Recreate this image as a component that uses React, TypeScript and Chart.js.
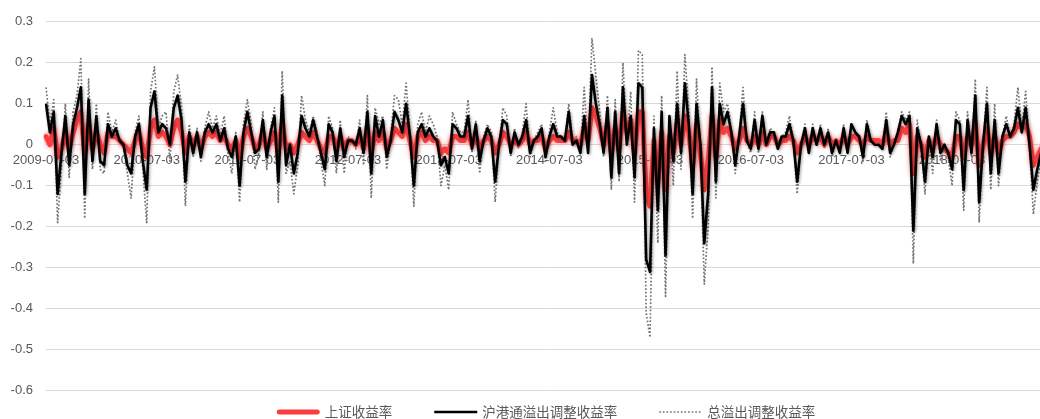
import { useEffect, useRef } from 'react';
import { Chart, registerables } from 'chart.js';

Chart.register(...registerables);

// ---- data ----
const START_DATE = '2009-07-03';
const STEP_DAYS = 14;
const TICK_EVERY = 26;
const tickLabels = [
  '2009-07-03', '2010-07-03', '2011-07-03', '2012-07-03', '2013-07-03',
  '2014-07-03', '2015-07-03', '2016-07-03', '2017-07-03', '2018-07-03',
];
const seriesNames = ['上证收益率', '沪港通溢出调整收益率', '总溢出调整收益率'];

// 上证收益率
const shReturn = [
  0.02, 0.00, 0.04, -0.03, -0.01, 0.03, -0.01, 0.03, 0.06, 0.08,
  -0.02, 0.05, -0.01, 0.03, 0.00, -0.02, 0.03, 0.02, 0.02, 0.01,
  0.00, -0.01, -0.02, 0.01, 0.03, -0.01, -0.03, 0.04, 0.06, 0.02,
  0.03, 0.02, 0.00, 0.04, 0.06, 0.03, -0.02, 0.02, 0.00, 0.02,
  -0.01, 0.02, 0.03, 0.02, 0.03, 0.01, 0.02, 0.00, -0.01, 0.01,
  -0.03, 0.02, 0.04, 0.02, -0.01, 0.00, 0.03, -0.01, 0.01, 0.03,
  -0.02, 0.05, -0.01, 0.00, -0.02, 0.00, 0.03, 0.02, 0.01, 0.03,
  0.01, -0.01, -0.02, 0.02, 0.02, -0.01, 0.02, -0.01, 0.01, 0.01,
  0.00, 0.02, -0.01, 0.04, -0.02, 0.03, 0.01, 0.03, -0.01, 0.01,
  0.04, 0.03, 0.02, 0.05, 0.01, -0.03, 0.02, 0.03, 0.01, 0.02,
  0.01, 0.01, -0.02, -0.01, -0.02, 0.02, 0.02, 0.01, 0.01, 0.03,
  0.00, 0.02, -0.01, 0.01, 0.02, 0.01, -0.02, 0.00, 0.03, 0.02,
  0.00, 0.01, 0.00, 0.01, 0.03, 0.00, 0.01, 0.01, 0.02, -0.01,
  0.01, 0.02, 0.01, 0.01, 0.01, 0.03, 0.01, 0.01, 0.00, 0.04,
  0.01, 0.09, 0.07, 0.04, 0.00, 0.05, -0.02, 0.04, -0.01, 0.08,
  0.03, 0.06, -0.02, 0.08, 0.08, -0.12, -0.15, 0.01, -0.09, 0.03,
  -0.11, 0.02, -0.02, 0.05, 0.00, 0.07, 0.03, -0.05, 0.05, -0.02,
  -0.11, -0.04, 0.07, -0.03, 0.06, 0.03, 0.04, 0.02, -0.01, 0.01,
  0.04, 0.01, 0.00, 0.02, 0.00, 0.03, 0.00, 0.02, 0.02, 0.00,
  0.01, 0.01, 0.02, 0.01, -0.02, 0.00, 0.02, 0.00, 0.02, 0.01,
  0.02, 0.00, 0.02, 0.00, 0.01, 0.00, 0.02, 0.00, 0.02, 0.02,
  0.01, 0.00, 0.02, 0.01, 0.01, 0.01, 0.00, 0.03, 0.00, 0.01,
  0.01, 0.04, 0.03, 0.05, -0.07, 0.02, 0.00, -0.03, 0.01, -0.01,
  0.02, 0.00, -0.01, -0.02, -0.03, 0.02, 0.02, -0.03, 0.02, 0.00,
  0.05, -0.05, 0.00, 0.04, -0.02, 0.02, -0.02, 0.01, 0.02, 0.02,
  0.03, 0.05, 0.04, 0.05, 0.02, -0.05, -0.03, -0.01, 0.00,
];

// 沪港通溢出调整收益率
const hkConnectAdj = [
  0.10, 0.03, 0.08, -0.12, -0.02, 0.07, -0.05, 0.05, 0.09, 0.14,
  -0.12, 0.11, -0.04, 0.07, -0.04, -0.05, 0.05, 0.02, 0.04, 0.01,
  0.00, -0.05, -0.07, 0.02, 0.05, -0.04, -0.11, 0.09, 0.13, 0.03,
  0.05, 0.04, 0.00, 0.09, 0.12, 0.06, -0.09, 0.03, -0.02, 0.03,
  -0.03, 0.03, 0.05, 0.03, 0.05, 0.01, 0.04, -0.01, -0.03, 0.02,
  -0.10, 0.03, 0.08, 0.03, -0.02, -0.01, 0.06, -0.03, 0.03, 0.07,
  -0.09, 0.12, -0.05, 0.00, -0.07, -0.02, 0.07, 0.04, 0.02, 0.06,
  0.02, -0.02, -0.06, 0.05, 0.03, -0.04, 0.04, -0.03, 0.01, 0.01,
  0.00, 0.04, -0.02, 0.08, -0.07, 0.07, 0.02, 0.06, -0.03, 0.01,
  0.08, 0.06, 0.03, 0.10, 0.02, -0.10, 0.03, 0.05, 0.02, 0.04,
  0.02, 0.01, -0.05, -0.03, -0.07, 0.05, 0.04, 0.02, 0.02, 0.07,
  -0.01, 0.05, -0.04, 0.01, 0.04, 0.02, -0.09, 0.00, 0.06, 0.05,
  -0.02, 0.03, 0.00, 0.02, 0.06, -0.02, 0.01, 0.02, 0.04, -0.03,
  0.02, 0.05, 0.02, 0.02, 0.01, 0.08, 0.00, 0.01, -0.02, 0.07,
  -0.02, 0.17, 0.10, 0.05, -0.02, 0.09, -0.08, 0.08, -0.07, 0.14,
  0.00, 0.07, -0.08, 0.15, 0.14, -0.28, -0.31, 0.04, -0.16, 0.08,
  -0.27, 0.07, -0.04, 0.10, -0.02, 0.15, 0.05, -0.12, 0.10, 0.00,
  -0.24, -0.12, 0.14, -0.09, 0.10, 0.05, 0.08, 0.03, -0.05, 0.02,
  0.10, 0.01, -0.01, 0.06, -0.01, 0.07, 0.00, 0.03, 0.03, -0.01,
  0.02, 0.02, 0.05, 0.01, -0.09, 0.00, 0.04, -0.02, 0.04, 0.00,
  0.04, 0.00, 0.03, -0.02, 0.01, -0.02, 0.04, -0.02, 0.05, 0.03,
  0.02, -0.03, 0.05, 0.01, 0.00, 0.00, -0.01, 0.06, -0.02, 0.00,
  0.03, 0.07, 0.05, 0.07, -0.21, 0.04, 0.00, -0.09, 0.02, -0.03,
  0.05, -0.02, 0.00, -0.02, -0.06, 0.06, 0.05, -0.11, 0.06, -0.02,
  0.12, -0.14, 0.00, 0.10, -0.07, 0.06, -0.07, 0.02, 0.05, 0.02,
  0.04, 0.09, 0.03, 0.09, 0.00, -0.11, -0.06, -0.02, 0.00,
];

// 总溢出调整收益率
const totalSpillAdj = [
  0.14, 0.05, 0.11, -0.19, -0.05, 0.10, -0.08, 0.08, 0.12, 0.21,
  -0.18, 0.16, -0.06, 0.10, -0.06, -0.07, 0.08, 0.03, 0.06, 0.01,
  0.00, -0.07, -0.13, 0.03, 0.07, -0.06, -0.19, 0.13, 0.19, 0.04,
  0.07, 0.08, -0.04, 0.13, 0.17, 0.09, -0.15, 0.05, -0.03, 0.04,
  -0.04, 0.04, 0.08, 0.04, 0.07, 0.02, 0.07, -0.02, -0.07, 0.03,
  -0.14, 0.05, 0.11, 0.05, -0.06, -0.02, 0.08, -0.06, 0.04, 0.09,
  -0.14, 0.18, -0.07, -0.04, -0.12, -0.05, 0.12, 0.06, 0.03, 0.07,
  0.03, -0.04, -0.10, 0.07, 0.04, -0.07, 0.06, -0.07, 0.02, 0.01,
  -0.01, 0.06, -0.05, 0.12, -0.13, 0.09, 0.05, 0.07, -0.06, 0.02,
  0.12, 0.11, 0.05, 0.15, 0.03, -0.15, 0.05, 0.08, 0.03, 0.07,
  0.05, 0.02, -0.10, -0.05, -0.11, 0.08, 0.05, 0.03, 0.03, 0.11,
  -0.02, 0.06, -0.07, 0.02, 0.05, 0.03, -0.14, 0.00, 0.09, 0.07,
  -0.03, 0.04, -0.01, 0.03, 0.10, -0.03, 0.01, 0.03, 0.05, -0.04,
  0.03, 0.09, 0.03, 0.02, 0.01, 0.10, 0.01, 0.02, -0.02, 0.14,
  -0.02, 0.26, 0.17, 0.08, -0.03, 0.12, -0.11, 0.11, -0.09, 0.20,
  0.00, 0.13, -0.14, 0.23, 0.22, -0.41, -0.47, 0.07, -0.24, 0.12,
  -0.37, 0.07, -0.10, 0.18, -0.06, 0.22, 0.08, -0.18, 0.16, -0.01,
  -0.34, -0.20, 0.19, -0.13, 0.15, 0.08, 0.10, 0.04, -0.07, 0.02,
  0.14, 0.01, -0.02, 0.08, -0.02, 0.08, 0.00, 0.04, 0.03, -0.01,
  0.02, 0.03, 0.07, 0.01, -0.12, 0.00, 0.05, -0.02, 0.05, 0.00,
  0.05, -0.01, 0.04, -0.03, 0.01, -0.02, 0.05, -0.02, 0.05, 0.03,
  0.02, -0.04, 0.06, 0.01, 0.00, 0.00, -0.01, 0.08, -0.03, 0.00,
  0.03, 0.08, 0.06, 0.08, -0.29, 0.06, 0.00, -0.12, 0.02, -0.07,
  0.06, -0.04, 0.00, -0.03, -0.10, 0.08, 0.06, -0.16, 0.08, -0.03,
  0.16, -0.19, 0.00, 0.14, -0.11, 0.10, -0.10, 0.02, 0.07, 0.02,
  0.05, 0.14, 0.04, 0.13, 0.00, -0.17, -0.09, -0.03, 0.00,
];

const Y_MIN = -0.6;
const Y_MAX = 0.3;
const Y_STEP = 0.1;

// ---- helpers ----
function buildDates(n: number): string[] {
  const out: string[] = [];
  const d0 = new Date(START_DATE + 'T00:00:00Z').getTime();
  for (let i = 0; i < n; i++) {
    out.push(new Date(d0 + i * STEP_DAYS * 86400000).toISOString().slice(0, 10));
  }
  return out;
}

const CANVAS_W = 1092;
const CANVAS_H = 419;
const TEXT_COLOR = '#595959';
const TICK_FONT = { family: '"Liberation Sans", Arial, sans-serif', size: 13 };

const STYLES = [
  { color: 'rgb(250, 62, 62)', width: 5, dash: [] as number[], cap: 'round' as CanvasLineCap },
  { color: '#000000', width: 2.6, dash: [] as number[], cap: 'butt' as CanvasLineCap },
  { color: 'rgb(115, 115, 115)', width: 1.7, dash: [1.7, 1.9], cap: 'butt' as CanvasLineCap },
];

const shadowPlugin = {
  id: 'lineShadow',
  beforeDatasetDraw(chart: any, args: any) {
    const ctx = chart.ctx;
    ctx.save();
    if (args.index === 0) {
      ctx.shadowColor = 'rgba(255, 40, 40, 0.6)';
      ctx.shadowBlur = 5;
    } else if (args.index === 1) {
      ctx.shadowColor = 'rgba(0, 0, 0, 0.4)';
      ctx.shadowBlur = 3;
      ctx.shadowOffsetX = 1;
      ctx.shadowOffsetY = 1;
    }
  },
  afterDatasetDraw(chart: any) {
    chart.ctx.restore();
  },
};

const legendPlugin = {
  id: 'customLegend',
  afterDraw(chart: any) {
    const ctx: CanvasRenderingContext2D = chart.ctx;
    ctx.save();
    ctx.font = '13.5px "Noto Sans CJK SC", sans-serif';
    const swatch = 43;
    const gapText = 5;
    const gapItem = 42;
    const widths = seriesNames.map((n) => swatch + gapText + ctx.measureText(n).width);
    const total = widths.reduce((a, b) => a + b, 0) + gapItem * (widths.length - 1);
    let x = 546 - total / 2;
    const y = 412;
    seriesNames.forEach((name, i) => {
      const s = STYLES[i];
      ctx.beginPath();
      ctx.lineWidth = s.width;
      ctx.strokeStyle = s.color;
      ctx.lineCap = s.cap;
      ctx.setLineDash(s.dash);
      const inset = s.cap === 'round' ? s.width / 2 : 0;
      ctx.moveTo(x + inset, y);
      ctx.lineTo(x + swatch - inset, y);
      ctx.stroke();
      ctx.setLineDash([]);
      ctx.fillStyle = TEXT_COLOR;
      ctx.textBaseline = 'middle';
      ctx.textAlign = 'left';
      ctx.fillText(name, x + swatch + gapText, y);
      x += widths[i] + gapItem;
    });
    ctx.restore();
  },
};

export default function App() {
  const canvasRef = useRef<HTMLCanvasElement | null>(null);

  useEffect(() => {
    if (!canvasRef.current) return;
    const labels = buildDates(hkConnectAdj.length);
    const seriesData = [shReturn, hkConnectAdj, totalSpillAdj];
    // lower order is drawn on top: black on top, then red, dotted beneath
    const orders = [2, 1, 3];
    const chart = new Chart(canvasRef.current, {
      type: 'line',
      data: {
        labels,
        datasets: seriesData.map((d, i) => ({
          label: seriesNames[i],
          data: d,
          borderColor: STYLES[i].color,
          backgroundColor: STYLES[i].color,
          borderWidth: STYLES[i].width,
          borderDash: STYLES[i].dash,
          borderCapStyle: STYLES[i].cap,
          borderJoinStyle: 'round',
          pointRadius: 0,
          pointHoverRadius: 0,
          tension: 0,
          fill: false,
          order: orders[i],
        })),
      },
      options: {
        responsive: false,
        animation: false,
        events: [],
        layout: { padding: { left: 0, right: 47, top: 21.7, bottom: 28.3 } },
        plugins: {
          legend: { display: false },
          tooltip: { enabled: false },
        },
        scales: {
          x: {
            type: 'category',
            position: { y: 0 },
            offset: false,
            grid: { display: false, drawTicks: false },
            border: { display: false },
            ticks: {
              autoSkip: false,
              maxRotation: 0,
              minRotation: 0,
              padding: 8,
              color: TEXT_COLOR,
              font: TICK_FONT,
              callback: (_v: any, i: number) =>
                i % TICK_EVERY === 0 && tickLabels[i / TICK_EVERY] ? tickLabels[i / TICK_EVERY] : '',
            },
            afterFit: (s: any) => {
              s.height = 0;
            },
          },
          y: {
            min: Y_MIN,
            max: Y_MAX,
            grid: { color: '#d9d9d9', lineWidth: 1, drawTicks: false },
            border: { display: false },
            ticks: {
              stepSize: Y_STEP,
              padding: 13,
              color: TEXT_COLOR,
              font: TICK_FONT,
              callback: (v: any) => String(Math.round(Number(v) * 10) / 10),
            },
            afterFit: (s: any) => {
              s.width = 46;
            },
          },
        },
      } as any,
      plugins: [shadowPlugin, legendPlugin],
    });
    return () => chart.destroy();
  }, []);

  return (
    <div
      style={{
        position: 'fixed',
        left: 0,
        top: 0,
        width: 1040,
        height: 419,
        overflow: 'hidden',
        background: '#ffffff',
      }}
    >
      <canvas
        ref={canvasRef}
        width={CANVAS_W}
        height={CANVAS_H}
        style={{ display: 'block', width: CANVAS_W, height: CANVAS_H }}
      />
    </div>
  );
}
